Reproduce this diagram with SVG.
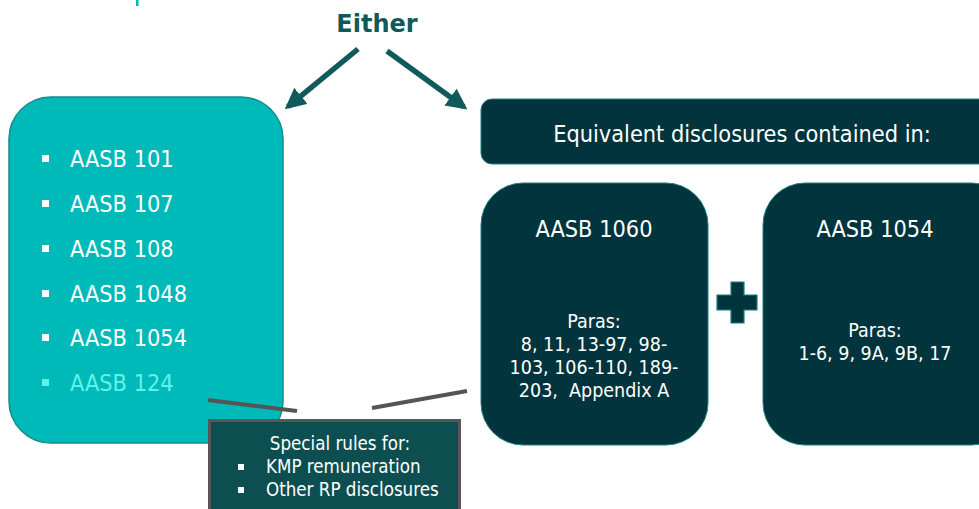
<svg xmlns="http://www.w3.org/2000/svg" width="979" height="509" viewBox="0 0 979 509">
  <defs>
    <style>
      text { font-family: "DejaVu Sans Condensed", "DejaVu Sans", Verdana, sans-serif; }
      .w { fill: #ffffff; }
      .lg { font-size: 23.3px; }
      .md { font-size: 19.5px; }
      .sm { font-size: 18.6px; }
      .dark { fill: #02343d; }
      .flow { stroke: #105a5c; stroke-width: 5.5; fill: none; marker-end: url(#head); }
      .tie { stroke: #555555; stroke-width: 4; }
    </style>
    <marker id="head" viewBox="0 0 10 10" refX="8" refY="5" markerWidth="3.8" markerHeight="3.8" orient="auto" markerUnits="strokeWidth">
      <path d="M0,0 L10,5 L0,10 z" fill="#105a5c"/>
    </marker>
  </defs>

  <!-- small accent tick at the top edge -->
  <rect x="136" y="0" width="2.5" height="6" fill="#00b8b8"/>

  <!-- heading -->
  <g id="either">
    <text x="377" y="32" text-anchor="middle" style="font-family: 'DejaVu Sans', Verdana, sans-serif; font-weight: bold; font-size: 24px; fill: #105a5c;">Either</text>
  </g>

  <!-- left: list of standards -->
  <g id="standards-list">
    <rect x="9" y="97" width="274" height="346" rx="42" fill="#00b9b9" stroke="#138c8c" stroke-width="1.5"/>
    <g fill="#ffffff">
      <rect x="42" y="155" width="7" height="7"/>
      <rect x="42" y="200" width="7" height="7"/>
      <rect x="42" y="245" width="7" height="7"/>
      <rect x="42" y="290" width="7" height="7"/>
      <rect x="42" y="334" width="7" height="7"/>
    </g>
    <rect x="42" y="379" width="7" height="7" fill="#5ff2ea"/>
    <text class="w lg" x="70" y="167">AASB 101</text>
    <text class="w lg" x="70" y="212">AASB 107</text>
    <text class="w lg" x="70" y="257">AASB 108</text>
    <text class="w lg" x="70" y="302">AASB 1048</text>
    <text class="w lg" x="70" y="346">AASB 1054</text>
    <text class="lg" x="70" y="391" fill="#5ff2ea">AASB 124</text>
  </g>

  <!-- right: header bar -->
  <g id="equivalent-header">
    <rect x="481" y="99" width="520" height="65" rx="11" class="dark" stroke="#1a8080" stroke-width="1"/>
    <text class="w lg" x="742" y="142" text-anchor="middle">Equivalent disclosures contained in:</text>
  </g>

  <!-- right: AASB 1060 -->
  <g id="aasb-1060">
    <rect x="481" y="183" width="227" height="262" rx="42" class="dark" stroke="#1a8080" stroke-width="1"/>
    <text class="w lg" x="594" y="237" text-anchor="middle">AASB 1060</text>
    <text class="w md" x="594" y="328" text-anchor="middle">Paras:</text>
    <text class="w md" x="594" y="351" text-anchor="middle">8, 11, 13-97, 98-</text>
    <text class="w md" x="594" y="374" text-anchor="middle">103, 106-110, 189-</text>
    <text class="w md" x="594" y="397" text-anchor="middle" xml:space="preserve">203,  Appendix A</text>
  </g>

  <!-- plus sign between the two boxes -->
  <g id="plus">
    <path d="M731,282 H744 V295 H757 V310 H744 V323 H731 V310 H717 V295 H731 Z" class="dark" stroke="#1a8080" stroke-width="1.2"/>
  </g>

  <!-- right: AASB 1054 -->
  <g id="aasb-1054">
    <rect x="763" y="183" width="250" height="262" rx="42" class="dark" stroke="#1a8080" stroke-width="1"/>
    <text class="w lg" x="875" y="237" text-anchor="middle">AASB 1054</text>
    <text class="w md" x="875" y="337" text-anchor="middle">Paras:</text>
    <text class="w md" x="875" y="360" text-anchor="middle">1-6, 9, 9A, 9B, 17</text>
  </g>

  <!-- connectors -->
  <g id="connectors">
    <line class="flow" x1="358" y1="49" x2="288" y2="106.5"/>
    <line class="flow" x1="387" y1="51" x2="464" y2="107"/>
    <line class="tie" x1="208" y1="400" x2="297" y2="411"/>
    <line class="tie" x1="372" y1="408" x2="467" y2="391"/>
  </g>

  <!-- callout: special rules -->
  <g id="special-rules">
    <rect x="209.5" y="420.5" width="250" height="92" fill="#0d4f51" stroke="#575757" stroke-width="3"/>
    <text class="w sm" x="340" y="450" text-anchor="middle">Special rules for:</text>
    <rect x="238" y="464" width="6" height="6" fill="#ffffff"/>
    <rect x="238" y="487" width="6" height="6" fill="#ffffff"/>
    <text class="w sm" x="266" y="473">KMP remuneration</text>
    <text class="w sm" x="266" y="496">Other RP disclosures</text>
  </g>
</svg>
